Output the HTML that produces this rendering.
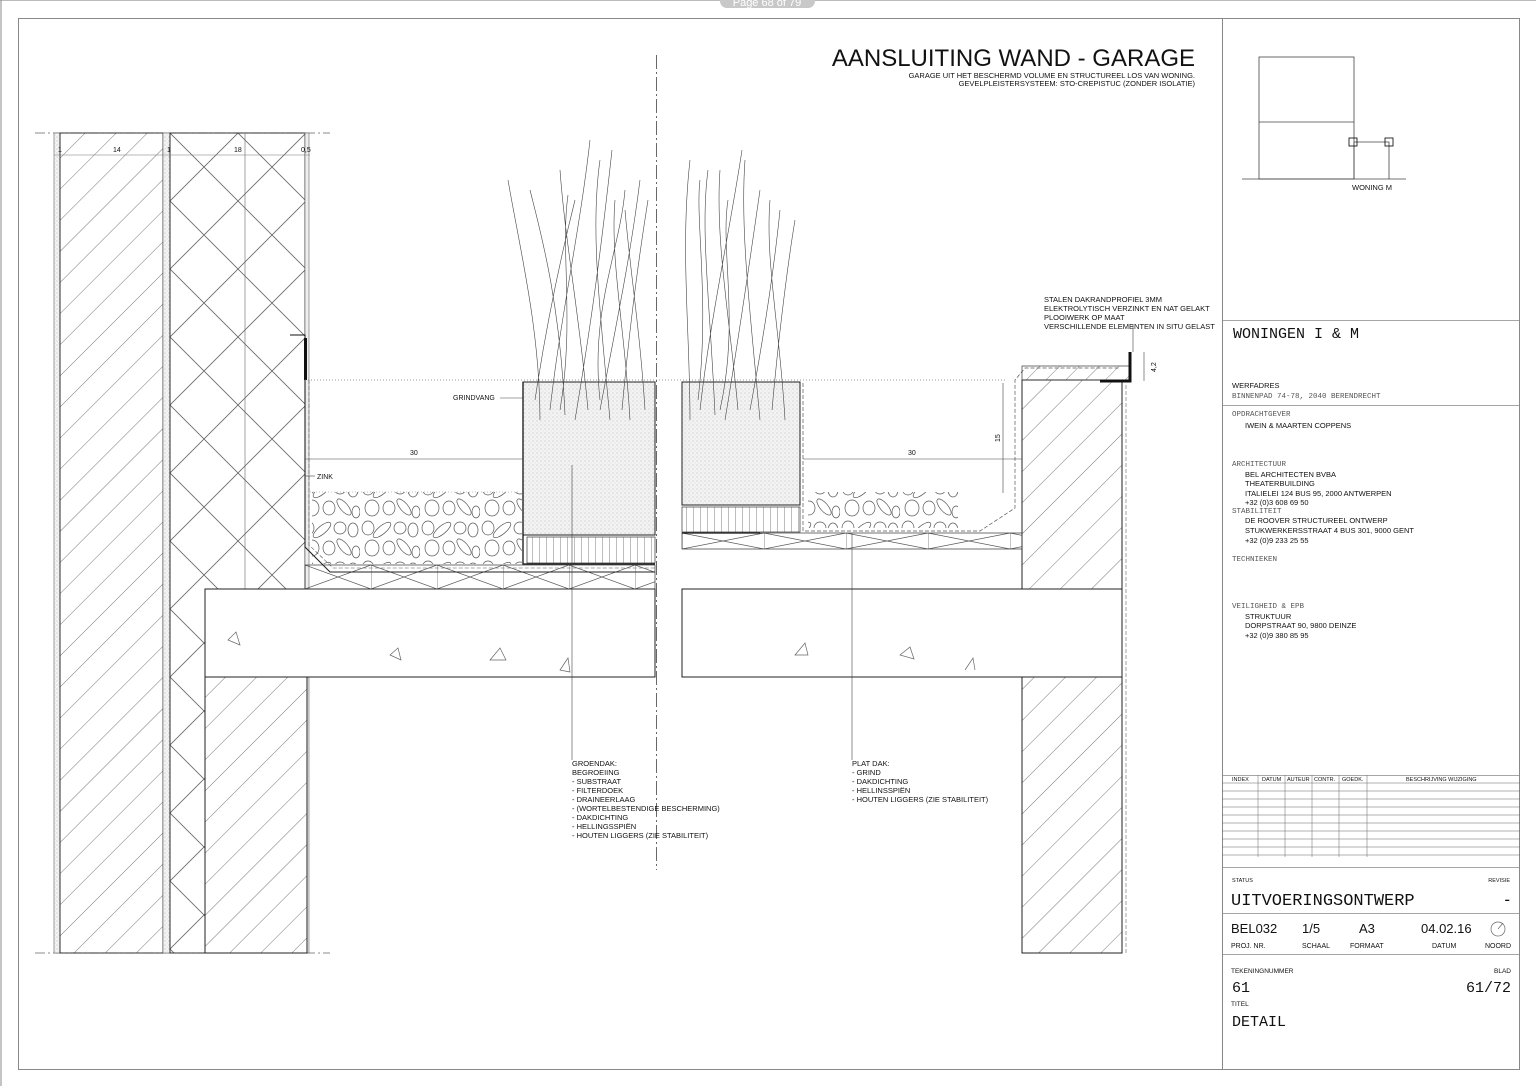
<!DOCTYPE html>
<html><head><meta charset="utf-8"><style>
html,body{margin:0;padding:0;background:#fff}
svg{display:block}
text{font-family:"Liberation Sans",sans-serif;fill:#111}
.m{font-family:"Liberation Mono",monospace}
</style></head><body>
<svg width="1536" height="1086" viewBox="0 0 1536 1086" xmlns="http://www.w3.org/2000/svg">
<defs>
<pattern id="diag" width="22" height="22" patternUnits="userSpaceOnUse" patternTransform="rotate(45)">
<line x1="0" y1="0" x2="0" y2="22" stroke="#555" stroke-width="0.8"/></pattern>
<pattern id="diag2" width="14" height="14" patternUnits="userSpaceOnUse" patternTransform="rotate(45)">
<line x1="0" y1="0" x2="0" y2="14" stroke="#555" stroke-width="0.7"/></pattern>
<pattern id="cross" width="68" height="68" patternUnits="userSpaceOnUse" x="170" y="133">
<path d="M0 0L68 68M68 0L0 68" stroke="#666" stroke-width="0.8" fill="none"/></pattern>
<pattern id="ins" width="66" height="24" patternUnits="userSpaceOnUse" x="305" y="565">
<path d="M0 0L66 24M66 0L0 24M0 0V24" stroke="#555" stroke-width="0.7" fill="none"/></pattern>
<pattern id="ins2" width="82" height="16" patternUnits="userSpaceOnUse" x="682" y="533">
<path d="M0 0L82 16M82 0L0 16M0 0V16" stroke="#555" stroke-width="0.7" fill="none"/></pattern>
<pattern id="bat" width="7" height="30" patternUnits="userSpaceOnUse"><line x1="0" y1="0" x2="0" y2="30" stroke="#444" stroke-width="0.7"/></pattern>
<pattern id="dots" width="4" height="4" patternUnits="userSpaceOnUse"><rect width="4" height="4" fill="#f3f3f3"/><circle cx="1" cy="1" r="0.5" fill="#aaa"/><circle cx="3" cy="3" r="0.4" fill="#bbb"/></pattern>
<pattern id="peb" width="60" height="40" patternUnits="userSpaceOnUse">
<g fill="none" stroke="#555" stroke-width="0.7">
<ellipse cx="8" cy="8" rx="6" ry="7"/><ellipse cx="22" cy="10" rx="11" ry="4" transform="rotate(-40 22 10)"/><ellipse cx="40" cy="8" rx="6" ry="6"/><ellipse cx="53" cy="10" rx="5" ry="7"/>
<ellipse cx="12" cy="28" rx="7" ry="8"/><ellipse cx="29" cy="28" rx="6" ry="7"/><ellipse cx="44" cy="27" rx="10" ry="4" transform="rotate(50 44 27)"/><ellipse cx="56" cy="32" rx="4" ry="6"/></g></pattern>
</defs>
<rect width="1536" height="1086" fill="#fff"/>
<line x1="0" y1="0.5" x2="1536" y2="0.5" stroke="#bbb"/>
<line x1="1" y1="0" x2="1" y2="1086" stroke="#888"/>
<rect x="720" y="-8" width="95" height="16" rx="7" fill="#c8c8c8"/>
<text x="767" y="6" font-size="11" text-anchor="middle" style="fill:#fff">Page 68 of 79</text>
<rect x="18.5" y="18.5" width="1501" height="1051" fill="none" stroke="#888"/>
<line x1="1222.5" y1="18" x2="1222.5" y2="1070" stroke="#888"/>

<text x="1195" y="66" font-size="24" text-anchor="end">AANSLUITING WAND - GARAGE</text>
<text x="1195" y="78" font-size="7.5" text-anchor="end">GARAGE UIT HET BESCHERMD VOLUME EN STRUCTUREEL LOS VAN WONING.</text>
<text x="1195" y="86" font-size="7.5" text-anchor="end">GEVELPLEISTERSYSTEEM: STO-CREPISTUC (ZONDER ISOLATIE)</text>

<line x1="35" y1="133" x2="330" y2="133" stroke="#666" stroke-dasharray="10 3 2 3" stroke-width="0.7"/>
<line x1="35" y1="953" x2="330" y2="953" stroke="#666" stroke-dasharray="10 3 2 3" stroke-width="0.7"/>
<rect x="54" y="133" width="6" height="820" fill="url(#dots)" stroke="#666" stroke-width="0.6"/>
<rect x="60" y="133" width="103" height="820" fill="url(#diag)" stroke="#222" stroke-width="0.9"/>
<rect x="163" y="133" width="7" height="820" fill="url(#dots)" stroke="#666" stroke-width="0.6"/>
<rect x="170" y="133" width="135" height="820" fill="url(#cross)" stroke="#222" stroke-width="0.9"/>
<line x1="245" y1="133" x2="245" y2="589" stroke="#666" stroke-width="0.6"/>
<rect x="305" y="133" width="4" height="820" fill="#eee" stroke="#666" stroke-width="0.6"/>
<line x1="54" y1="155" x2="310" y2="155" stroke="#777" stroke-width="0.6"/>
<text x="58" y="152" font-size="7">1</text><text x="113" y="152" font-size="7">14</text><text x="167" y="152" font-size="7">1</text><text x="234" y="152" font-size="7">18</text><text x="301" y="152" font-size="7">0,5</text>
<path d="M290 335H305V380" fill="none" stroke="#111" stroke-width="1"/>
<rect x="304" y="338" width="3" height="42" fill="#111"/>

<rect x="205" y="589" width="450" height="88" fill="#fff" stroke="#222"/>
<rect x="682" y="589" width="440" height="88" fill="#fff" stroke="#222"/>
<g fill="none" stroke="#666" stroke-width="0.7">
<path d="M228 640l8-8 4 13zM390 655l8-7 3 12zM490 660l10-12 6 12zM560 670l8-12 2 14zM795 655l10-12 3 12zM900 655l10-8 4 12zM965 670l8-12 2 12"/></g>
<rect x="205" y="677" width="102" height="276" fill="#fff"/>
<rect x="205" y="677" width="102" height="276" fill="url(#diag)" stroke="#222"/>
<rect x="1022" y="677" width="100" height="276" fill="url(#diag)" stroke="#222"/>
<rect x="1022" y="380" width="100" height="209" fill="url(#diag)" stroke="#222"/>
<line x1="1126" y1="385" x2="1126" y2="953" stroke="#666" stroke-dasharray="4 2" stroke-width="0.6"/>

<rect x="305" y="565" width="350" height="24" fill="url(#ins)" stroke="#333" stroke-width="0.7"/>
<path d="M305 380V547L330 572H655" fill="none" stroke="#222" stroke-width="1.1"/>
<path d="M309 380V545L333 568H655" fill="none" stroke="#555" stroke-width="0.6" stroke-dasharray="4 2"/>
<rect x="312" y="492" width="210" height="72" fill="url(#peb)"/>
<line x1="310" y1="492" x2="520" y2="492" stroke="#888" stroke-dasharray="1 2" stroke-width="0.6"/>
<rect x="523" y="382" width="132" height="153" fill="url(#dots)" stroke="#222"/>
<rect x="527" y="537" width="128" height="26" fill="url(#bat)" stroke="#333" stroke-width="0.7"/>
<path d="M523 382V564H655" fill="none" stroke="#111" stroke-width="1.3"/>
<line x1="305" y1="380" x2="1005" y2="380" stroke="#777" stroke-dasharray="1 2" stroke-width="0.7"/>
<line x1="305" y1="459" x2="523" y2="459" stroke="#444" stroke-width="0.6"/>
<text x="410" y="455" font-size="7">30</text>
<text x="317" y="479" font-size="7">ZINK</text><line x1="305" y1="476" x2="315" y2="476" stroke="#444" stroke-width="0.6"/>
<text x="453" y="400" font-size="7">GRINDVANG</text><line x1="500" y1="398" x2="523" y2="398" stroke="#444" stroke-width="0.6"/>

<rect x="682" y="533" width="340" height="16" fill="url(#ins2)" stroke="#333" stroke-width="0.7"/>
<rect x="682" y="382" width="118" height="123" fill="url(#dots)" stroke="#222"/>
<rect x="682" y="507" width="118" height="25" fill="url(#bat)" stroke="#333" stroke-width="0.7"/>
<path d="M682 533H760" stroke="#111" stroke-width="1.3"/>
<path d="M803 383V531H980L1015 508V380L1025 368H1120" fill="none" stroke="#555" stroke-width="0.7" stroke-dasharray="4 2"/>
<rect x="808" y="492" width="150" height="36" fill="url(#peb)"/>
<line x1="803" y1="459" x2="1022" y2="459" stroke="#444" stroke-width="0.6"/>
<text x="908" y="455" font-size="7">30</text>
<line x1="1003" y1="383" x2="1003" y2="493" stroke="#444" stroke-width="0.6"/>
<text x="1000" y="442" font-size="7" transform="rotate(-90 1000 442)">15</text>
<rect x="1022" y="366" width="108" height="14" fill="url(#diag2)" stroke="#333" stroke-width="0.7"/>
<path d="M1100 381H1130V352" fill="none" stroke="#111" stroke-width="3"/>
<line x1="1144" y1="352" x2="1144" y2="381" stroke="#444" stroke-width="0.6"/>
<text x="1156" y="372" font-size="7" transform="rotate(-90 1156 372)">4,2</text>
<line x1="1133" y1="325" x2="1133" y2="352" stroke="#444" stroke-width="0.6"/>
<text x="1044" y="302" font-size="7.5">STALEN DAKRANDPROFIEL 3MM</text>
<text x="1044" y="311" font-size="7.5">ELEKTROLYTISCH VERZINKT EN NAT GELAKT</text>
<text x="1044" y="320" font-size="7.5">PLOOIWERK OP MAAT</text>
<text x="1044" y="329" font-size="7.5">VERSCHILLENDE ELEMENTEN IN SITU GELAST</text>

<g fill="none" stroke="#444" stroke-width="0.6">
<path d="M540 420C540 330 520 250 508 180M550 410C560 320 580 230 590 140M565 415C560 300 540 230 530 190M575 420C590 330 600 260 612 150M588 410C580 320 565 240 560 170M600 410C615 330 630 260 640 180M610 420C600 310 590 230 600 160M622 410C630 320 640 250 648 200M630 420C625 330 610 260 615 200M645 410C640 330 630 270 625 210M535 400C550 300 570 220 575 200M560 410C575 320 560 250 568 195M600 400C590 310 620 250 625 190"/>
<path d="M690 420C690 330 680 250 690 160M700 410C710 320 730 230 742 150M715 415C710 300 700 230 708 170M725 420C740 330 750 260 760 190M738 410C730 320 715 240 720 170M750 410C765 330 775 260 780 210M760 420C750 310 740 230 745 160M772 410C780 320 790 250 795 220M785 420C780 330 765 260 770 200M698 400C710 300 695 220 700 180M720 410C740 320 720 250 728 200"/>
</g>
<line x1="656.5" y1="55" x2="656.5" y2="870" stroke="#444" stroke-width="0.8" stroke-dasharray="14 3 2 3"/>

<line x1="572" y1="465" x2="572" y2="760" stroke="#444" stroke-width="0.6"/>
<line x1="852" y1="533" x2="852" y2="760" stroke="#444" stroke-width="0.6"/>
<g font-size="7.5">
<text x="572" y="766">GROENDAK:</text><text x="572" y="775"> BEGROEIING</text><text x="572" y="784">- SUBSTRAAT</text><text x="572" y="793">- FILTERDOEK</text><text x="572" y="802">- DRAINEERLAAG</text><text x="572" y="811">- (WORTELBESTENDIGE BESCHERMING)</text><text x="572" y="820">- DAKDICHTING</text><text x="572" y="829">- HELLINGSSPIËN</text><text x="572" y="838">- HOUTEN LIGGERS (ZIE STABILITEIT)</text>
<text x="852" y="766">PLAT DAK:</text><text x="852" y="775">- GRIND</text><text x="852" y="784">- DAKDICHTING</text><text x="852" y="793">- HELLINSSPIËN</text><text x="852" y="802">- HOUTEN LIGGERS (ZIE STABILITEIT)</text>
</g>

<g fill="none" stroke="#444" stroke-width="0.8">
<rect x="1259" y="57" width="95" height="122"/><line x1="1259" y1="122" x2="1354" y2="122"/>
<line x1="1242" y1="179" x2="1406" y2="179"/><path d="M1354 179V142H1389V179"/>
<rect x="1349" y="138" width="8" height="8" stroke="#000"/><rect x="1385" y="138" width="8" height="8" stroke="#000"/></g>
<text x="1352" y="190" font-size="7.5">WONING M</text>

<g stroke="#888" stroke-width="0.8">
<line x1="1222" y1="320.5" x2="1520" y2="320.5"/><line x1="1222" y1="405.5" x2="1520" y2="405.5"/>
<line x1="1222" y1="775.5" x2="1520" y2="775.5"/><line x1="1222" y1="867.5" x2="1520" y2="867.5"/>
<line x1="1222" y1="913.5" x2="1520" y2="913.5"/><line x1="1222" y1="954.5" x2="1520" y2="954.5"/></g>
<g stroke="#666" stroke-width="0.5">
<line x1="1222" y1="783" x2="1520" y2="783"/><line x1="1222" y1="791" x2="1520" y2="791"/><line x1="1222" y1="799" x2="1520" y2="799"/><line x1="1222" y1="807" x2="1520" y2="807"/><line x1="1222" y1="815" x2="1520" y2="815"/><line x1="1222" y1="823" x2="1520" y2="823"/><line x1="1222" y1="831" x2="1520" y2="831"/><line x1="1222" y1="839" x2="1520" y2="839"/><line x1="1222" y1="847" x2="1520" y2="847"/><line x1="1222" y1="855" x2="1520" y2="855"/>
<line x1="1258" y1="775" x2="1258" y2="857"/><line x1="1285" y1="775" x2="1285" y2="857"/><line x1="1312" y1="775" x2="1312" y2="857"/><line x1="1339" y1="775" x2="1339" y2="857"/><line x1="1367" y1="775" x2="1367" y2="857"/></g>
<g font-size="5.5"><text x="1232" y="781">INDEX</text><text x="1262" y="781">DATUM</text><text x="1287" y="781">AUTEUR</text><text x="1314" y="781">CONTR.</text><text x="1342" y="781">GOEDK.</text><text x="1406" y="781">BESCHRIJVING WIJZIGING</text></g>
<text x="1233" y="338" font-size="15" class="m">WONINGEN I &amp; M</text>
<text x="1232" y="388" font-size="7.5">WERFADRES</text>
<text x="1232" y="398" font-size="7.5" class="m" style="fill:#555">BINNENPAD 74-78, 2040 BERENDRECHT</text>
<g font-size="7.5">
<text x="1232" y="416" class="m" style="fill:#555">OPDRACHTGEVER</text>
<text x="1245" y="428">IWEIN &amp; MAARTEN COPPENS</text>
<text x="1232" y="466" class="m" style="fill:#555">ARCHITECTUUR</text>
<text x="1245" y="477">BEL ARCHITECTEN BVBA</text><text x="1245" y="486">THEATERBUILDING</text><text x="1245" y="496">ITALIELEI 124 BUS 95, 2000 ANTWERPEN</text><text x="1245" y="505">+32 (0)3 608 69 50</text>
<text x="1232" y="513" class="m" style="fill:#555">STABILITEIT</text>
<text x="1245" y="523">DE ROOVER STRUCTUREEL ONTWERP</text><text x="1245" y="533">STUKWERKERSSTRAAT 4 BUS 301, 9000 GENT</text><text x="1245" y="543">+32 (0)9 233 25 55</text>
<text x="1232" y="561" class="m" style="fill:#555">TECHNIEKEN</text>
<text x="1232" y="608" class="m" style="fill:#555">VEILIGHEID &amp; EPB</text>
<text x="1245" y="619">STRUKTUUR</text><text x="1245" y="628">DORPSTRAAT 90, 9800 DEINZE</text><text x="1245" y="638">+32 (0)9 380 85 95</text>
</g>
<text x="1232" y="882" font-size="5.5">STATUS</text><text x="1510" y="882" font-size="5.5" text-anchor="end">REVISIE</text>
<text x="1231" y="905" font-size="17" class="m">UITVOERINGSONTWERP</text><text x="1510" y="905" font-size="17" text-anchor="end">-</text>
<text x="1231" y="933" font-size="13">BEL032</text><text x="1302" y="933" font-size="13">1/5</text><text x="1359" y="933" font-size="13">A3</text><text x="1421" y="933" font-size="13">04.02.16</text>
<circle cx="1498" cy="929" r="7" fill="none" stroke="#666" stroke-width="0.7"/><line x1="1498" y1="929" x2="1503" y2="923" stroke="#666" stroke-width="0.7"/>
<g font-size="7"><text x="1231" y="948">PROJ. NR.</text><text x="1302" y="948">SCHAAL</text><text x="1350" y="948">FORMAAT</text><text x="1432" y="948">DATUM</text><text x="1511" y="948" text-anchor="end">NOORD</text></g>
<text x="1231" y="973" font-size="6.5">TEKENINGNUMMER</text><text x="1511" y="973" font-size="6.5" text-anchor="end">BLAD</text>
<text x="1232" y="992" font-size="15" class="m">61</text><text x="1511" y="992" font-size="15" class="m" text-anchor="end">61/72</text>
<text x="1231" y="1006" font-size="6.5">TITEL</text>
<text x="1232" y="1026" font-size="15" class="m">DETAIL</text>
</svg>
</body></html>
